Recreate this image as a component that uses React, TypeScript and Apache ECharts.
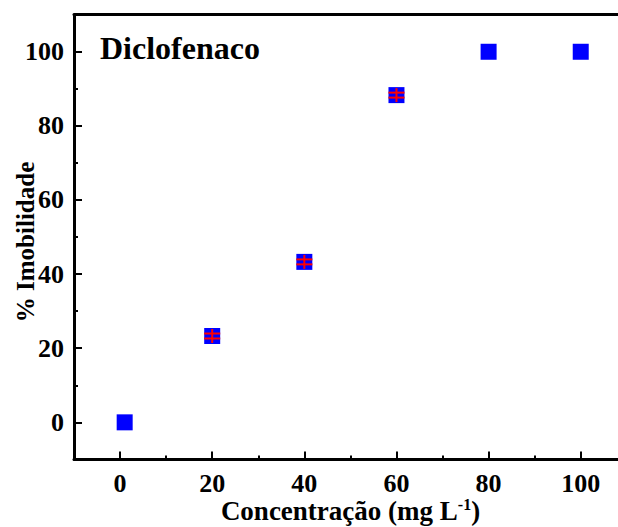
import React, { useEffect, useRef } from "react";
import * as echarts from "echarts";

const concentrations = [1, 20, 40, 60, 80, 100];
const immobility = [0, 23.3, 43.3, 88.3, 100, 100];
const errors = [0, 0.67, 0.67, 0.67, 0, 0];
const xMajorTicks = [0, 20, 40, 60, 80, 100];
const xMinorTicks = [10, 30, 50, 70, 90];
const yMajorTicks = [0, 20, 40, 60, 80, 100];
const yMinorTicks = [10, 30, 50, 70, 90];
const title = "Diclofenaco";
const xName = "{a|Concentração (mg L}{s|-1}{a|)}";
const yName = "% Imobilidade";

const FONT = "'Liberation Serif', 'Times New Roman', serif";

export default function App() {
  const ref = useRef<HTMLDivElement>(null);
  useEffect(() => {
    if (!ref.current) return;
    const chart = echarts.init(ref.current, undefined, { renderer: "svg" });
    const lineStyle = { color: "#000", width: 3 };
    const labelStyle = {
      fontFamily: FONT,
      fontWeight: "bold" as const,
      fontSize: 26,
      color: "#000",
    };
    const baseX = {
      type: "value" as const,
      min: -10,
      max: 110,
      gridIndex: 0,
      splitLine: { show: false },
    };
    const baseY = {
      type: "value" as const,
      min: -10,
      max: 110,
      gridIndex: 0,
      splitLine: { show: false },
    };
    const pts = concentrations.map((c, i) => [c, immobility[i]]);
    const errPts = concentrations.map((c, i) => [c, immobility[i], errors[i]]);
    chart.setOption({
      animation: false,
      backgroundColor: "#fff",
      grid: {
        left: 74,
        top: 14.7,
        right: -8.8,
        bottom: 67.6,
        containLabel: false,
        outerBoundsMode: "none",
      },
      xAxis: [
        {
          ...baseX,
          position: "bottom",
          axisLine: { show: true, onZero: false, lineStyle },
          axisTick: {
            show: true,
            inside: true,
            length: 8,
            lineStyle: { color: "#000", width: 2 },
            customValues: xMajorTicks,
          },
          axisLabel: { ...labelStyle, margin: 11, customValues: xMajorTicks },
        },
        {
          ...baseX,
          position: "bottom",
          axisLine: { show: false, onZero: false },
          axisTick: {
            show: true,
            inside: true,
            length: 4,
            lineStyle: { color: "#000", width: 2 },
            customValues: xMinorTicks,
          },
          axisLabel: { show: false },
        },
        {
          ...baseX,
          position: "top",
          axisLine: { show: true, onZero: false, lineStyle },
          axisTick: { show: false },
          axisLabel: { show: false },
        },
      ],
      yAxis: [
        {
          ...baseY,
          position: "left",
          axisLine: { show: true, onZero: false, lineStyle },
          axisTick: {
            show: true,
            inside: true,
            length: 8,
            lineStyle: { color: "#000", width: 2 },
            customValues: yMajorTicks,
          },
          axisLabel: { ...labelStyle, margin: 10, customValues: yMajorTicks },
        },
        {
          ...baseY,
          position: "left",
          axisLine: { show: false, onZero: false },
          axisTick: {
            show: true,
            inside: true,
            length: 4,
            lineStyle: { color: "#000", width: 2 },
            customValues: yMinorTicks,
          },
          axisLabel: { show: false },
        },
        {
          ...baseY,
          position: "right",
          axisLine: { show: true, onZero: false, lineStyle },
          axisTick: { show: false },
          axisLabel: { show: false },
        },
      ],
      graphic: [
        {
          type: "text",
          left: 100,
          top: 32,
          style: {
            text: title,
            fontFamily: FONT,
            fontWeight: "bold",
            fontSize: 32,
            fill: "#000",
          },
        },
        {
          type: "text",
          x: 350.5,
          y: 511,
          style: {
            text: xName,
            align: "center",
            verticalAlign: "middle",
            rich: {
              a: { fontFamily: FONT, fontWeight: "bold", fontSize: 27, fill: "#000", lineHeight: 30 },
              s: { fontFamily: FONT, fontWeight: "bold", fontSize: 16, fill: "#000", verticalAlign: "top", lineHeight: 16 },
            },
          },
        },
        {
          type: "text",
          x: 25,
          y: 242,
          rotation: Math.PI / 2,
          style: {
            text: yName,
            align: "center",
            verticalAlign: "middle",
            fontFamily: FONT,
            fontWeight: "bold",
            fontSize: 25,
            fill: "#000",
          },
        },
      ],
      series: [
        {
          type: "scatter",
          data: pts,
          symbol: "rect",
          symbolSize: 16,
          itemStyle: { color: "#0000FF", opacity: 1 },
          z: 2,
        },
        {
          type: "custom",
          data: errPts,
          z: 3,
          renderItem: (params: any, api: any) => {
            const x = api.value(0);
            const y = api.value(1);
            const e = api.value(2);
            if (!e) return null;
            const c = api.coord([x, y]);
            const hi = api.coord([x, y + e]);
            const lo = api.coord([x, y - e]);
            const hw = 8;
            const st = { stroke: "#FF0000", lineWidth: 2 };
            return {
              type: "group",
              children: [
                { type: "line", shape: { x1: c[0], y1: c[1] - 7, x2: c[0], y2: c[1] + 7 }, style: st },
                { type: "line", shape: { x1: c[0] - hw, y1: hi[1], x2: c[0] + hw, y2: hi[1] }, style: st },
                { type: "line", shape: { x1: c[0] - hw, y1: lo[1], x2: c[0] + hw, y2: lo[1] }, style: st },
              ],
            };
          },
        },
      ],
    });
    return () => chart.dispose();
  }, []);
  return (
    <div
      ref={ref}
      style={{ position: "fixed", left: 0, top: 0, width: 618, height: 527, background: "#fff" }}
    />
  );
}
